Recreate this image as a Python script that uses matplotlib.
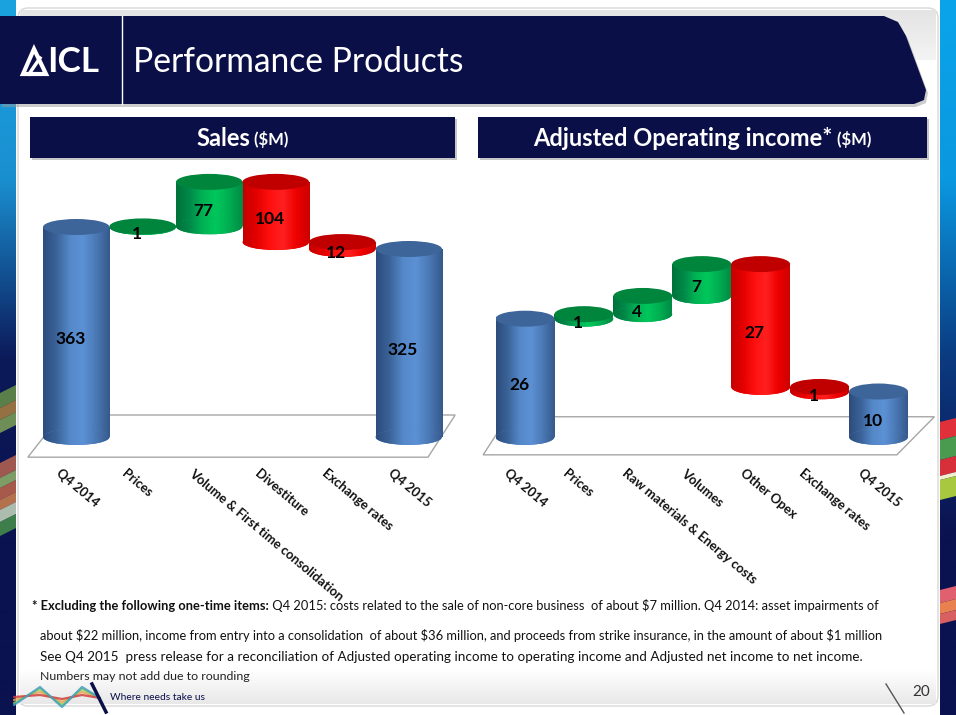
import numpy as np
import matplotlib
matplotlib.use("Agg")
import matplotlib.pyplot as plt
from matplotlib.patches import Polygon, Ellipse, FancyBboxPatch, Rectangle
from matplotlib.colors import LinearSegmentedColormap
from matplotlib.transforms import blended_transform_factory, offset_copy

plt.rcParams['font.family'] = ['Lato', 'DejaVu Sans']

# chart data ($M)
sales_labels = ["Q4 2014", "Prices", "Volume & First time consolidation",
                "Divestiture", "Exchange rates", "Q4 2015"]
sales_values = [363, 1, 77, -104, -12, 325]

op_labels = ["Q4 2014", "Prices", "Raw materials & Energy costs", "Volumes",
             "Other Opex", "Exchange rates", "Q4 2015"]
op_values = [26, 1, 4, 7, -27, -1, 10]

W, H = 956, 715
NAVY = "#0b0f48"

fig = plt.figure(figsize=(W / 100, H / 100), dpi=100)
fig.patch.set_facecolor("white")
renderer = fig.canvas.get_renderer()

bg = fig.add_axes([0, 0, 1, 1], zorder=0)
bg.axis("off")


def vgrad(ax, x0, x1, y_top, y_bot, colors, z=0):
    cm = LinearSegmentedColormap.from_list("g", colors)
    g = np.linspace(0, 1, 256).reshape(-1, 1)
    ax.imshow(g, cmap=cm, extent=(x0, x1, y_bot, y_top), aspect="auto",
              zorder=z, interpolation="bilinear")


def fit(t, target):
    w = t.get_window_extent(renderer).width
    t.set_fontsize(t.get_fontsize() * target / w)
    return t


# ---- slide frame ----
vgrad(bg, 0, 16, 0, 715, ["#1aa3e0", "#1a8fd0", "#0c1a5a", "#0b1250", "#0b1250"])
vgrad(bg, 940, 956, 0, 715, ["#0aa4ea", "#0a98e0", "#0b3a80", "#0b1250", "#0b1250"])
bg.add_patch(FancyBboxPatch((18, 8), 920, 698, boxstyle="round,pad=0,rounding_size=10",
                            facecolor="white", edgecolor="#d8d8d8", lw=1, zorder=1))
vgrad(bg, 20, 936, 10, 60, ["#e4e4e4", "#f4f4f4"], z=1)
vgrad(bg, 20, 936, 670, 704, ["#ffffff", "#e8e8e8"], z=1)

# streaks on the side strips
for (ya, yb, c) in [(385, 400, "#6f9a45"), (400, 412, "#b9873f"), (412, 425, "#86ad56"),
                    (455, 470, "#c46a4e"), (470, 480, "#9cbf6a"), (480, 492, "#cf6b4a"),
                    (492, 502, "#e08a4c"), (502, 514, "#d6e8c8"), (514, 528, "#4b9a4a")]:
    bg.add_patch(Polygon([(0, ya + 8), (16, ya), (16, yb), (0, yb + 8)],
                         facecolor=c, edgecolor="none", alpha=0.8, zorder=2))
for (ya, yb, c) in [(422, 440, "#e0303a"), (440, 460, "#4a9a50"), (460, 476, "#d8303a"),
                    (476, 480, "#f0f0d0"), (480, 500, "#a8c840"),
                    (590, 603, "#e06070"), (603, 614, "#e88050"), (614, 624, "#d86060")]:
    bg.add_patch(Polygon([(940, ya), (956, ya - 4), (956, yb - 4), (940, yb)],
                         facecolor=c, edgecolor="none", zorder=2))

# ---- header band ----
hdr = [(0, 16), (884, 16), (898, 22), (906, 36), (926, 90), (924, 100), (914, 104), (0, 104)]
bg.add_patch(Polygon([(x + 2, y + 3) for x, y in hdr], facecolor="#9a9a9a",
                     edgecolor="none", alpha=0.5, zorder=3))
bg.add_patch(Polygon(hdr, facecolor=NAVY, edgecolor="none", zorder=4))
bg.plot([122.5, 122.5], [16, 104], color="white", lw=1, zorder=5)
# logo
bg.add_patch(Polygon([(23, 74), (34, 49), (46, 74)], closed=True, fill=False,
                     edgecolor="white", lw=3, joinstyle="miter", zorder=5))
bg.plot([29, 40], [74, 58], color="white", lw=2.5, zorder=5)
t = bg.text(47, 62, "ICL", color="white", fontweight="bold", fontsize=18,
            va="center", ha="left", zorder=5)
fit(t, 52)
t = bg.text(133, 62, "Performance Products", color="white", fontsize=22,
            va="center", ha="left", zorder=5)
fit(t, 330)

# ---- sub headers ----
for (x0, x1, main, unit) in [(30, 455, "Sales", " ($M)"),
                             (478, 927, "Adjusted Operating income*", " ($M)")]:
    bg.add_patch(Rectangle((x0 + 2, 119), x1 - x0, 41, facecolor="#a0a0a0",
                           edgecolor="none", alpha=0.6, zorder=3))
    bg.add_patch(Rectangle((x0, 117), x1 - x0, 41, facecolor=NAVY, edgecolor="none", zorder=4))
    a = bg.text(0, 139, main, color="white", fontweight="bold", fontsize=17,
                va="center", ha="left", zorder=5)
    b = bg.text(0, 140, unit, color="white", fontweight="bold", fontsize=12,
                va="center", ha="left", zorder=5)
    wa = a.get_window_extent(renderer).width
    wb = b.get_window_extent(renderer).width
    xs = (x0 + x1) / 2 - (wa + wb) / 2
    a.set_x(xs)
    b.set_x(xs + wa)

# ---- waterfall charts ----
shades = {
    "total": (["#2c4c7c", "#3b6399", "#5488c9", "#5c91d5", "#4a78b4", "#36598c"], "#3d6599"),
    "up": (["#00713a", "#00894a", "#00b354", "#00c75c", "#00ad52", "#008a45"], "#00853d"),
    "down": (["#c40000", "#e40000", "#ff1010", "#ff2020", "#ee0000", "#cc0000"], "#c00000"),
}


def waterfall(box, values, labels, ylim, label_top, floor):
    x0, x1, y_top, y_bot = box
    ax = fig.add_axes([x0 / W, 1 - y_bot / H, (x1 - x0) / W, (y_bot - y_top) / H], zorder=6)
    ax.patch.set_alpha(0)
    n = len(values)
    ax.set_xlim(-0.5, n - 0.5)
    ax.set_ylim(*ylim)
    px_per_unit = (y_bot - y_top) / (ylim[1] - ylim[0])
    cap = 16 / px_per_unit

    bottoms, heights, kinds = [], [], []
    run = 0
    for i, v in enumerate(values):
        if i == 0 or i == n - 1:
            bottoms.append(0)
            heights.append(v)
            kinds.append("total")
            run = v
        else:
            bottoms.append(run + min(v, 0))
            heights.append(abs(v))
            kinds.append("up" if v > 0 else "down")
            run += v

    # 3d floor
    ax.add_patch(Polygon(floor, closed=True, transform=ax.transAxes, facecolor="white",
                         edgecolor="#a6a6a6", lw=1, clip_on=False, zorder=1))

    grad = np.linspace(0, 1, 128).reshape(1, -1)
    bars = ax.bar(range(n), heights, bottom=bottoms, width=1.0,
                  color=[shades[k][1] for k in kinds], zorder=2)
    for i, (bar, kind) in enumerate(zip(bars, kinds)):
        cols, capc = shades[kind]
        cm = LinearSegmentedColormap.from_list(kind, cols)
        bx, bw = bar.get_x(), bar.get_width()
        by, bh = bar.get_y(), bar.get_height()
        z = 2 + i * 0.1
        im = ax.imshow(grad, cmap=cm, extent=(bx, bx + bw, by, by + bh), aspect="auto",
                       zorder=z, interpolation="bicubic")
        im.set_clip_path(bar)
        bottom = Ellipse((bx + bw / 2, by), bw, cap, facecolor=cols[2], edgecolor="none", zorder=z)
        ax.add_patch(bottom)
        im2 = ax.imshow(grad, cmap=cm, extent=(bx, bx + bw, by - cap / 2, by + cap / 2),
                        aspect="auto", zorder=z + 0.01, interpolation="bicubic")
        im2.set_clip_path(bottom)
        ax.add_patch(Ellipse((bx + bw / 2, by + bh), bw, cap, facecolor=capc,
                             edgecolor="none", zorder=z + 0.02))
        tr = offset_copy(ax.transData, fig=fig, x=-6, y=-7, units="dots")
        ax.text(bx + bw / 2, by + bh / 2, f"{abs(values[i])}", transform=tr,
                ha="center", va="center", fontsize=12.5, fontweight="bold",
                color="black", zorder=10)

    tr = offset_copy(blended_transform_factory(ax.transData, ax.transAxes),
                     fig=fig, x=-15, y=0, units="dots")
    ty = (y_bot - label_top) / (y_bot - y_top)
    for i, lab in enumerate(labels):
        ax.text(i, ty, lab, transform=tr, rotation=-40, rotation_mode="anchor",
                ha="left", va="top", fontsize=9.4, fontweight="bold", color="#111111")
    ax.set_xlim(-0.5, n - 0.5)
    ax.set_ylim(*ylim)
    ax.axis("off")
    return ax


# scale: 0 at y=437px; left 0.5785 px per $M, right 4.55 px per $M
waterfall((43, 442, 437 - 470 * 0.5785, 437 + 40 * 0.5785), sales_values, sales_labels,
          (-40, 470), 467,
          [(-0.038, 0.01), (0.965, 0.01), (1.033, 0.153), (0.045, 0.153)])
waterfall((495.5, 908, 437 - 55 * 4.55, 437 + 5 * 4.55), op_values, op_labels,
          (-5, 55), 467,
          [(-0.03, 0.018), (0.973, 0.018), (1.064, 0.1575), (0.03, 0.1575)])

# ---- footnotes ----
fs = 9
a = bg.text(32, 606, "* Excluding the following one-time items:", fontweight="bold",
            fontsize=fs, va="center", ha="left", color="#111111", zorder=5)
b = bg.text(0, 606, " Q4 2015: costs related to the sale of non-core business  of about $7 million."
            " Q4 2014: asset impairments of", fontsize=fs, va="center", ha="left",
            color="#111111", zorder=5)
total = a.get_window_extent(renderer).width + b.get_window_extent(renderer).width
for txt in (a, b):
    txt.set_fontsize(fs * 848 / total)
b.set_x(32 + a.get_window_extent(renderer).width)
t = bg.text(40, 636, "about $22 million, income from entry into a consolidation  of about $36 million,"
            " and proceeds from strike insurance, in the amount of about $1 million",
            fontsize=fs, va="center", ha="left", color="#111111", zorder=5)
fit(t, 850)
t = bg.text(40, 657, "See Q4 2015  press release for a reconciliation of Adjusted operating income to"
            " operating income and Adjusted net income to net income.",
            fontsize=fs, va="center", ha="left", color="#111111", zorder=5)
fit(t, 823)
t = bg.text(40, 676, "Numbers may not add due to rounding", fontsize=8, va="center",
            ha="left", color="#222222", zorder=5)
fit(t, 212)

# ---- footer ----
for (c, dy) in [("#f0a050", 0), ("#8cc850", 3), ("#d04040", -3), ("#40a0c0", 5)]:
    bg.plot([14, 40, 62, 82, 100], [700 + dy, 692 - dy, 702 + dy, 692 - dy, 698],
            color=c, lw=1.6, alpha=0.85, zorder=5, solid_capstyle="round")
bg.plot([92, 106], [684, 712], color=NAVY, lw=2.5, zorder=6)
t = bg.text(110, 697, "Where needs take us", fontsize=9, va="center", ha="left",
            color=NAVY, zorder=6)
fit(t, 96)
bg.plot([886, 904], [684, 713], color="#555555", lw=1, zorder=5)
bg.text(912, 692, "20", fontsize=11, va="center", ha="left", color="#333333", zorder=5)

bg.set_xlim(0, W)
bg.set_ylim(H, 0)

fig.savefig("out.png", dpi=100)
